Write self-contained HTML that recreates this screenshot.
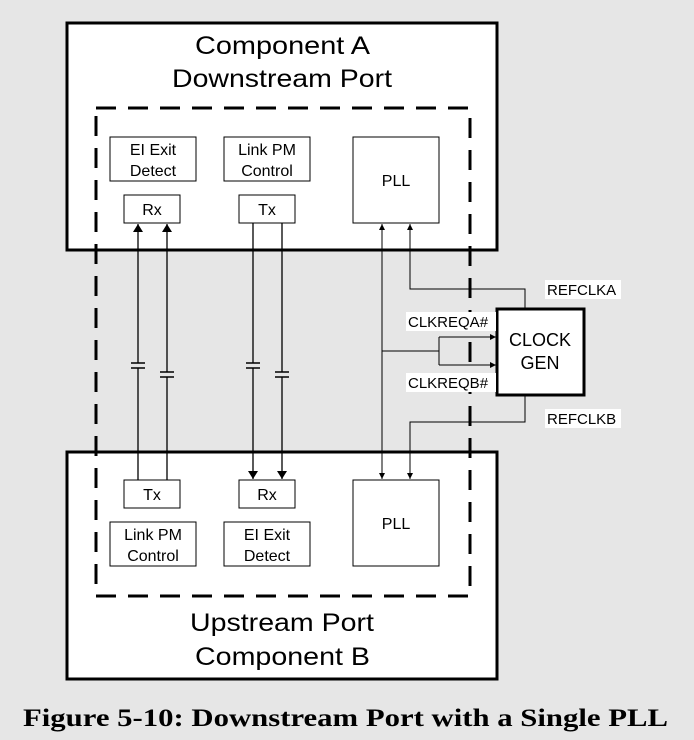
<!DOCTYPE html>
<html><head><meta charset="utf-8"><style>
html,body{margin:0;padding:0;background:#e6e6e6}
svg{display:block}
text{font-family:"Liberation Sans",Arial,sans-serif;fill:#000}
</style></head><body>
<svg width="694" height="740" viewBox="0 0 694 740" xmlns="http://www.w3.org/2000/svg">
<defs>
<marker id="ar" markerWidth="8" markerHeight="10" refX="8" refY="5" orient="auto" markerUnits="userSpaceOnUse">
<path d="M0,0 L8,5 L0,10 z" fill="#000"/></marker>
<marker id="as" markerWidth="6" markerHeight="6" refX="6" refY="3" orient="auto" markerUnits="userSpaceOnUse">
<path d="M0,0 L6,3 L0,6 z" fill="#000"/></marker>
</defs>
<rect width="694" height="740" fill="#e6e6e6"/>
<rect x="67" y="23" width="430" height="227" fill="#fff" stroke="#000" stroke-width="3"/>
<rect x="67" y="452" width="430" height="227" fill="#fff" stroke="#000" stroke-width="3"/>
<text x="195" y="54" font-size="25" textLength="175" lengthAdjust="spacingAndGlyphs">Component A</text>
<text x="172" y="87" font-size="25" textLength="220" lengthAdjust="spacingAndGlyphs">Downstream Port</text>
<text x="190" y="631" font-size="25" textLength="184" lengthAdjust="spacingAndGlyphs">Upstream Port</text>
<text x="195" y="665" font-size="25" textLength="175" lengthAdjust="spacingAndGlyphs">Component B</text>
<rect x="96" y="108" width="374" height="488" fill="none" stroke="#000" stroke-width="3" stroke-dasharray="20,12"/>
<g fill="#fff" stroke="#000" stroke-width="1">
<rect x="110" y="137" width="86" height="44"/><rect x="224" y="137" width="86" height="44"/>
<rect x="353" y="137" width="86" height="86"/>
<rect x="124" y="195" width="56" height="28"/><rect x="239" y="195" width="56" height="28"/>
<rect x="124" y="480" width="56" height="28"/><rect x="239" y="480" width="56" height="28"/>
<rect x="110" y="522" width="86" height="44"/><rect x="224" y="522" width="86" height="44"/>
<rect x="353" y="480" width="86" height="86"/>
</g>
<g font-size="16" text-anchor="middle">
<text x="153" y="155">EI Exit</text><text x="153" y="176">Detect</text>
<text x="267" y="155">Link PM</text><text x="267" y="176">Control</text>
<text x="396" y="186">PLL</text>
<text x="152" y="215">Rx</text><text x="267" y="215">Tx</text>
<text x="152" y="500">Tx</text><text x="267" y="500">Rx</text>
<text x="153" y="540">Link PM</text><text x="153" y="561">Control</text>
<text x="267" y="540">EI Exit</text><text x="267" y="561">Detect</text>
<text x="396" y="529">PLL</text>
</g>
<g stroke="#000" stroke-width="1.3" fill="none">
<line x1="138" y1="480" x2="138" y2="224" marker-end="url(#ar)"/>
<line x1="167" y1="480" x2="167" y2="224" marker-end="url(#ar)"/>
<line x1="253" y1="223" x2="253" y2="479" marker-end="url(#ar)"/>
<line x1="282" y1="223" x2="282" y2="479" marker-end="url(#ar)"/>
</g>
<g fill="#e6e6e6"><rect x="130" y="363" width="16" height="5"/><rect x="159" y="372" width="16" height="5"/><rect x="245" y="363" width="16" height="5"/><rect x="274" y="372" width="16" height="5"/></g>
<g stroke="#000" stroke-width="1.5">
<line x1="131" y1="363" x2="145" y2="363"/><line x1="131" y1="368" x2="145" y2="368"/>
<line x1="160" y1="372" x2="174" y2="372"/><line x1="160" y1="377" x2="174" y2="377"/>
<line x1="246" y1="363" x2="260" y2="363"/><line x1="246" y1="368" x2="260" y2="368"/>
<line x1="275" y1="372" x2="289" y2="372"/><line x1="275" y1="377" x2="289" y2="377"/>
</g>
<g stroke="#000" stroke-width="1" fill="none">
<line x1="382" y1="228" x2="382" y2="474"/>
<line x1="382" y1="240" x2="382" y2="224" marker-end="url(#as)"/>
<line x1="382" y1="460" x2="382" y2="479" marker-end="url(#as)"/>
<polyline points="525,308 525,289 410,289 410,224" marker-end="url(#as)"/>
<polyline points="525,395 525,422 410,422 410,479" marker-end="url(#as)"/>
<line x1="382" y1="351" x2="439" y2="351"/>
<line x1="439" y1="337" x2="439" y2="365"/>
<line x1="439" y1="337" x2="496" y2="337" marker-end="url(#as)"/>
<line x1="439" y1="365" x2="496" y2="365" marker-end="url(#as)"/>
</g>
<rect x="497" y="309" width="87" height="86" fill="#fff" stroke="#000" stroke-width="3"/>
<text x="540" y="346" font-size="18" text-anchor="middle">CLOCK</text>
<text x="540" y="369" font-size="18" text-anchor="middle">GEN</text>
<g fill="#fff"><rect x="545" y="280" width="76" height="19"/><rect x="406" y="312" width="90" height="19"/><rect x="406" y="373" width="90" height="19"/><rect x="545" y="409" width="76" height="19"/></g>
<g font-size="15">
<text x="547" y="295">REFCLKA</text>
<text x="408" y="327">CLKREQA#</text>
<text x="408" y="388">CLKREQB#</text>
<text x="547" y="424">REFCLKB</text>
</g>
<text x="23" y="726" font-size="25" font-weight="bold" style="font-family:'Liberation Serif',serif" textLength="645" lengthAdjust="spacingAndGlyphs">Figure 5-10: Downstream Port with a Single PLL</text>
</svg>
</body></html>
